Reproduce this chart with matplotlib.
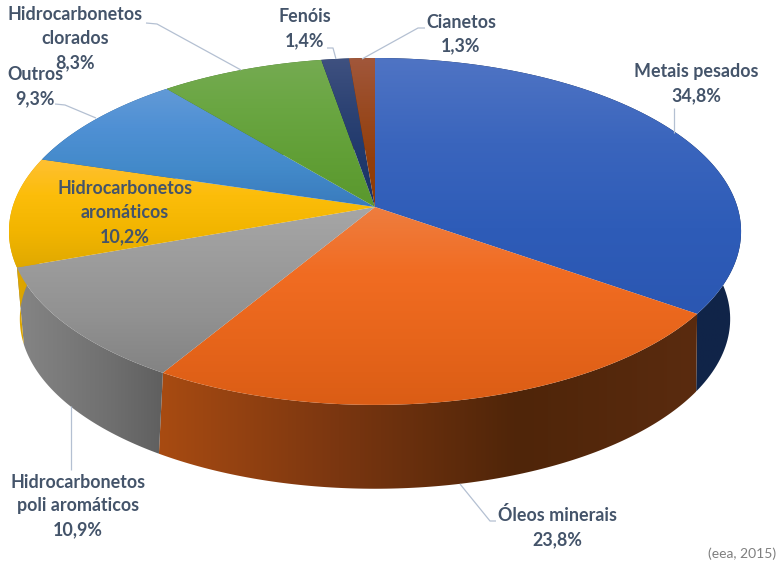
import numpy as np
import matplotlib
matplotlib.use("Agg")
import matplotlib.pyplot as plt
from matplotlib.colors import LinearSegmentedColormap
from matplotlib.patches import Polygon

# Slices, clockwise from 12 o'clock
categories = ["Metais pesados", "Óleos minerais", "Hidrocarbonetos\npoli aromáticos",
              "Hidrocarbonetos\naromáticos", "Outros", "Hidrocarbonetos\nclorados",
              "Fenóis", "Cianetos"]
values = [34.8, 23.8, 10.9, 10.2, 9.3, 8.3, 1.4, 1.3]

top_colors = [["#4f74c4", "#3a65bd", "#2e5cb8", "#2b57b2"],
              ["#ee7d3f", "#f16c22", "#e7651b", "#db5d15"],
              ["#a6a6a6", "#9c9c9c", "#919191", "#838383"],
              ["#ffc033", "#fcbd0a", "#f2b500", "#e0a900"],
              ["#629ad7", "#4f90d4", "#438aca", "#397bbd"],
              ["#75ab52", "#6aa642", "#619f36", "#5a982d"],
              ["#3f5180", "#2d4374", "#20396c", "#1b3365"],
              ["#a1573b", "#994a22", "#933f0c", "#8e3b02"]]
wall_colors = [["#10254b", "#10254b", "#10244a", "#112448"],
               ["#a84b12", "#7a3610", "#4f2509", "#5a2b0f"],
               ["#858585", "#7a7a7a", "#6e6e6e", "#5f5f5f"],
               ["#e0a800", "#dba400", "#d9a300", "#d4a000"],
               ["#2a5d8c"] * 4, ["#44702a"] * 4, ["#14264c"] * 4, ["#6a2c04"] * 4]

TEXT = "#44546a"
LEADER = "#b4c0d2"

plt.rcParams["font.family"] = ["Lato", "DejaVu Sans"]

# perspective of the top face and of the bottom rim
CX = 375.0
TOP = dict(a=362.4, b=170.0, k=0.141, cy=207.0)
BOTTOM = dict(a=348.0, b=163.0, k=0.20, cy=285.0)


def project(frac, a, b, k, cy):
    th = 2 * np.pi * np.asarray(frac)
    w = 1 + k * np.cos(th)
    return np.column_stack([CX + a * np.sin(th) / w, cy - b * np.cos(th) / w])


def gradient_fill(ax, pts, colors, horizontal=False):
    # gradient image clipped to the polygon
    patch = Polygon(pts, closed=True, transform=ax.transData)
    x0, y0 = pts.min(axis=0)
    x1, y1 = pts.max(axis=0)
    ramp = np.linspace(0, 1, 256)
    ramp = ramp[None, :] if horizontal else ramp[:, None]
    cmap = LinearSegmentedColormap.from_list("g", colors)
    im = ax.imshow(ramp, cmap=cmap, vmin=0, vmax=1, aspect="auto",
                   extent=[x0, x1, y1, y0], interpolation="bilinear")
    im.set_clip_path(patch)


fig = plt.figure(figsize=(7.8, 5.64), dpi=100)
ax = fig.add_axes([0, 0, 1, 1])

edges = np.concatenate([[0], np.cumsum(values)]) / np.sum(values)

# side walls first, the top face covers whatever should be hidden
for i in range(len(values)):
    arc = np.linspace(edges[i], edges[i + 1], 120)
    pts = np.vstack([project(arc, **TOP), project(arc[::-1], **BOTTOM)])
    gradient_fill(ax, pts, wall_colors[i], horizontal=True)

for i in range(len(values)):
    arc = np.linspace(edges[i], edges[i + 1], 120)
    pts = np.vstack([[[CX, TOP["cy"]]], project(arc, **TOP)])
    gradient_fill(ax, pts, top_colors[i])

# leader lines
leaders = [([674, 674], [108, 133]),
           ([460, 490, 496], [484, 521, 521]),
           ([71, 71], [406, 470]),
           ([55, 65, 96], [104, 105, 118]),
           ([146, 157, 241], [23, 24, 70]),
           ([327, 333, 336], [48, 48, 59]),
           ([425, 418, 362], [28, 28, 59])]
for xs, ys in leaders:
    ax.plot(xs, ys, color=LEADER, lw=0.9, solid_capstyle="butt")

# labels
label_xy = [(696, 84), (557, 527), (78, 506), (125, 213), (35, 87), (75, 39), (305, 29), (461, 34)]
for name, val, (x, y) in zip(categories, values, label_xy):
    txt = name + "\n" + f"{val:.1f}".replace(".", ",") + "%"
    ax.text(x, y, txt, ha="center", va="center", color=TEXT, fontsize=12.9,
            fontweight="bold", linespacing=1.5)

ax.text(776, 554, "(eea, 2015)", ha="right", va="center", color="#7f7f7f", fontsize=10)

ax.set_xlim(0, 780)
ax.set_ylim(564, 0)
ax.axis("off")
fig.savefig("out.png", dpi=100, facecolor="white")
